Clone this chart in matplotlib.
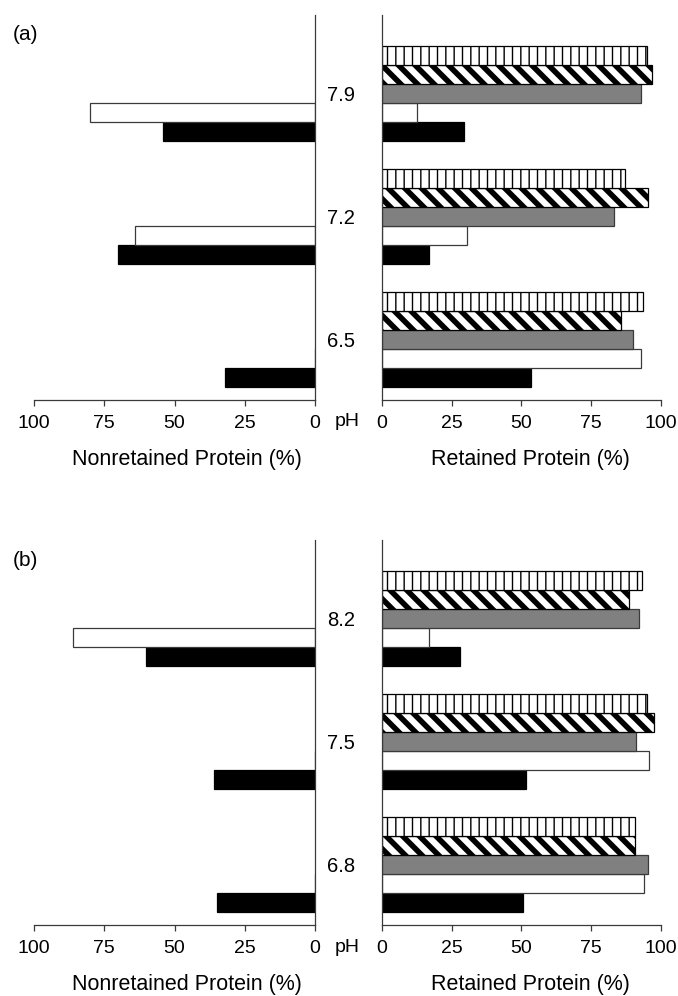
import matplotlib
matplotlib.use("Agg")
import matplotlib.pyplot as plt
import numpy as np


plt.rcParams["font.family"] = ["Liberation Sans", "DejaVu Sans"]
plt.rcParams["axes.edgecolor"] = "#3a3a3a"
plt.rcParams["xtick.color"] = "#3a3a3a"
plt.rcParams["xtick.labelcolor"] = "black"

PH_A = ["6.5", "7.2", "7.9"]
PH_B = ["6.8", "7.5", "8.2"]

# nonretained protein (%), left side
NONRET_BLACK_A = [32, 70, 54]
NONRET_WHITE_A = [0, 64, 80]
NONRET_BLACK_B = [35, 36, 60]
NONRET_WHITE_B = [0, 0, 86]

# retained protein (%), right side, bottom to top within a group
RET_BLACK_A = [53.5, 17, 29.6]
RET_WHITE_A = [92.7, 30.7, 12.8]
RET_GRAY_A = [90.1, 83.1, 92.7]
RET_DIAG_A = [85.6, 95.5, 96.7]
RET_VERT_A = [93.4, 87.2, 95.1]

RET_BLACK_B = [50.5, 51.7, 28.0]
RET_WHITE_B = [93.9, 95.8, 16.9]
RET_GRAY_B = [95.5, 91.2, 92.0]
RET_DIAG_B = [90.8, 97.5, 88.5]
RET_VERT_B = [90.6, 94.9, 93.2]

TICKS = [0, 25, 50, 75, 100]

BAR_H = 0.1545
STYLES = [
    dict(color="black", edgecolor="black", hatch=None),
    dict(color="white", edgecolor="#3a3a3a", hatch=None),
    dict(color="#808080", edgecolor="#3a3a3a", hatch=None),
    dict(color="white", edgecolor="black", hatch="\\\\"),
    dict(color="white", edgecolor="black", hatch="||"),
]
HATCH_LW = [1.0, 1.0, 1.0, 4.0, 1.0]


def draw_bars(ax, series):
    y = np.arange(3)
    for i, vals in enumerate(series):
        st = STYLES[i]
        with plt.rc_context({"hatch.linewidth": HATCH_LW[i]}):
            bars = ax.barh(y + (i - 2) * BAR_H, vals, height=BAR_H,
                           color=st["color"], edgecolor=st["edgecolor"],
                           hatch=st["hatch"], linewidth=0.9)
        if st["hatch"] is not None:
            for b in bars:
                if hasattr(b, "set_hatch_linewidth"):
                    b.set_hatch_linewidth(HATCH_LW[i])


def panel(fig, bottom, labels, left_series, right_series, tag):
    height = 385 / 996
    ax_l = fig.add_axes([34 / 678, bottom, 281 / 678, height])
    ax_r = fig.add_axes([381.7 / 678, bottom, 279.3 / 678, height])

    y = np.arange(3)
    ax_l.barh(y - 2 * BAR_H, left_series[0], height=BAR_H,
              color="black", edgecolor="black", linewidth=0.9)
    ax_l.barh(y - BAR_H, left_series[1], height=BAR_H,
              color="white", edgecolor="#3a3a3a", linewidth=0.9)
    draw_bars(ax_r, right_series)

    for ax in (ax_l, ax_r):
        ax.set_ylim(-0.492, 2.64)
        ax.set_xticks(TICKS)
        ax.set_xticklabels([str(t) for t in TICKS], fontsize=14)
        ax.tick_params(axis="x", length=4, width=0.9, pad=7)
        ax.spines["top"].set_visible(False)
        for s in ax.spines.values():
            s.set_linewidth(0.9)

    ax_l.set_xlim(100, 0)
    ax_l.spines["left"].set_visible(False)
    ax_l.set_yticks([])

    ax_r.set_xlim(0, 100)
    ax_r.spines["right"].set_visible(False)
    ax_r.set_yticks(y)
    ax_r.set_yticklabels(labels, fontsize=14.5)
    ax_r.tick_params(axis="y", length=0, pad=19)

    ax_l.set_xlabel("Nonretained Protein (%)", fontsize=15.5, va="center")
    ax_r.set_xlabel("Retained Protein (%)", fontsize=15.5, va="center")
    ax_l.xaxis.set_label_coords(0.545, -59 / 385)
    ax_r.xaxis.set_label_coords(0.533, -59 / 385)

    top_px = (1 - bottom - height) * 996
    fig.text(25 / 678, 1 - (top_px + 20) / 996, tag, fontsize=15,
             ha="center", va="center")
    bot_px = (1 - bottom) * 996
    fig.text(347 / 678, 1 - (bot_px + 22) / 996, "pH", fontsize=14,
             ha="center", va="center")


fig = plt.figure(figsize=(6.78, 9.96), dpi=100)

panel(fig, 1 - 400 / 996, PH_A,
      [NONRET_BLACK_A, NONRET_WHITE_A],
      [RET_BLACK_A, RET_WHITE_A, RET_GRAY_A, RET_DIAG_A, RET_VERT_A],
      "(a)")
panel(fig, 1 - 925 / 996, PH_B,
      [NONRET_BLACK_B, NONRET_WHITE_B],
      [RET_BLACK_B, RET_WHITE_B, RET_GRAY_B, RET_DIAG_B, RET_VERT_B],
      "(b)")

fig.savefig("out.png", dpi=100)
